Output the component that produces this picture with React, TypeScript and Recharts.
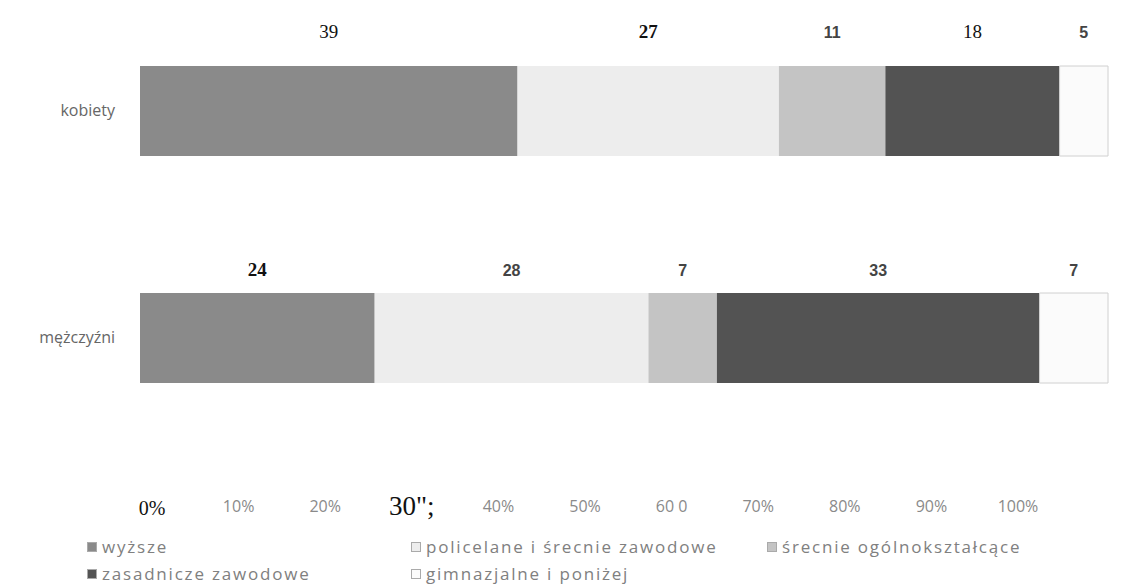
import { BarChart, Bar, XAxis, YAxis, Legend, LabelList } from 'recharts';

const categories = ['kobiety', 'mężczyźni'];
const wyzsze = [39, 24];
const policealne = [27, 28];
const srednieOgolne = [11, 7];
const zasadnicze = [18, 33];
const gimnazjalne = [5, 7];

const seriesKeys = ['wyzsze', 'policealne', 'srednieOgolne', 'zasadnicze', 'gimnazjalne'];
const seriesNames = [
  'wyższe',
  'policelane i śrecnie zawodowe',
  'śrecnie ogólnokształcące',
  'zasadnicze zawodowe',
  'gimnazjalne i poniżej',
];
const seriesColors = ['#8a8a8a', '#ededed', '#c4c4c4', '#535353', '#fbfbfb'];

// stackOffset="expand" puts the value axis on 0..1
const tickValues = [0, 0.1, 0.2, 0.3, 0.4, 0.5, 0.6, 0.7, 0.8, 0.9, 1];
const tickLabels = ['0%', '10%', '20%', '30";', '40%', '50%', '60 0', '70%', '80%', '90%', '100%'];
const serifTicks = ['0%', '30";'];

// the scan mixes fonts in the value labels: [row][series]
const labelFonts = [
  ['serif', 'serifBold', 'sans', 'serif', 'sans'],
  ['serifBold', 'sans', 'sans', 'sans', 'sans'],
];
const labelGap = [28, 17];

const data = categories.map((name, i) => ({
  name,
  wyzsze: wyzsze[i],
  policealne: policealne[i],
  srednieOgolne: srednieOgolne[i],
  zasadnicze: zasadnicze[i],
  gimnazjalne: gimnazjalne[i],
}));

const fontStyle = (kind: string) => {
  if (kind === 'serif') return { fontFamily: '"Liberation Serif", serif', fontWeight: 'normal', fill: '#111', fontSize: 19 };
  if (kind === 'serifBold') return { fontFamily: '"Liberation Serif", serif', fontWeight: 'bold', fill: '#111', fontSize: 19 };
  return { fontFamily: '"Liberation Sans", sans-serif', fontWeight: 'bold', fill: '#444', fontSize: 16 };
};

const makeLabel = (s: number) => (props: any) => {
  const { x, y, width, value, index } = props;
  const st = fontStyle(labelFonts[index][s]);
  return (
    <text x={x + width / 2} y={y - labelGap[index]} textAnchor="middle" {...st}>
      {value}
    </text>
  );
};

const PctTick = ({ x, y, payload }: any) => {
  const label = tickLabels[tickValues.indexOf(payload.value)];
  const serif = serifTicks.includes(label);
  return (
    <text
      x={x}
      y={y}
      dy={serif ? 26 : 23}
      textAnchor="middle"
      fill={serif ? '#111' : '#8a8a8a'}
      fontFamily={serif ? '"Liberation Serif", serif' : '"Open Sans", sans-serif'}
      fontSize={label === '30";' ? 27 : serif ? 20 : 16}
    >
      {label}
    </text>
  );
};

const LegendBox = () => (
  <div
    style={{
      display: 'grid',
      gridTemplateColumns: '324px 356px auto',
      rowGap: 6,
      paddingLeft: 69,
      paddingTop: 4,
      fontFamily: '"Open Sans", sans-serif',
      fontSize: 17,
      letterSpacing: 1.8,
      color: '#808080',
    }}
  >
    {seriesNames.map((name, i) => (
      <div key={name} style={{ display: 'flex', alignItems: 'center', height: 21, whiteSpace: 'nowrap' }}>
        <span
          style={{
            display: 'inline-block',
            width: 8,
            height: 8,
            marginRight: 5,
            background: seriesColors[i],
            border: '1px solid #aaa',
          }}
        />
        {name}
      </div>
    ))}
  </div>
);

export default function App() {
  return (
    <div style={{ marginTop: -11 }}>
      <BarChart
        width={1128}
        height={590}
        data={data}
        layout="vertical"
        stackOffset="expand"
        barSize={90}
        margin={{ top: 0, right: 28, bottom: 0, left: 10 }}
      >
        <XAxis xAxisId="bars" type="number" hide />
        <XAxis
          xAxisId="pct"
          type="number"
          ticks={tickValues}
          padding={{ left: 12, right: 90 }}
          height={81}
          axisLine={false}
          tickLine={false}
          tick={<PctTick />}
          interval={0}
        />
        <YAxis
          type="category"
          dataKey="name"
          width={122}
          axisLine={false}
          tickLine={false}
          tickMargin={19}
          tick={{ fill: '#666', fontSize: 16, fontFamily: '"Open Sans", sans-serif' }}
        />
        <Legend verticalAlign="bottom" height={55} content={<LegendBox />} />
        {seriesKeys.map((key, i) => (
          <Bar
            key={key}
            xAxisId="bars"
            dataKey={key}
            name={seriesNames[i]}
            stackId="a"
            fill={seriesColors[i]}
            stroke={i === 4 ? '#d0d0d0' : 'none'}
            isAnimationActive={false}
          >
            <LabelList dataKey={key} content={makeLabel(i)} />
          </Bar>
        ))}
      </BarChart>
    </div>
  );
}
